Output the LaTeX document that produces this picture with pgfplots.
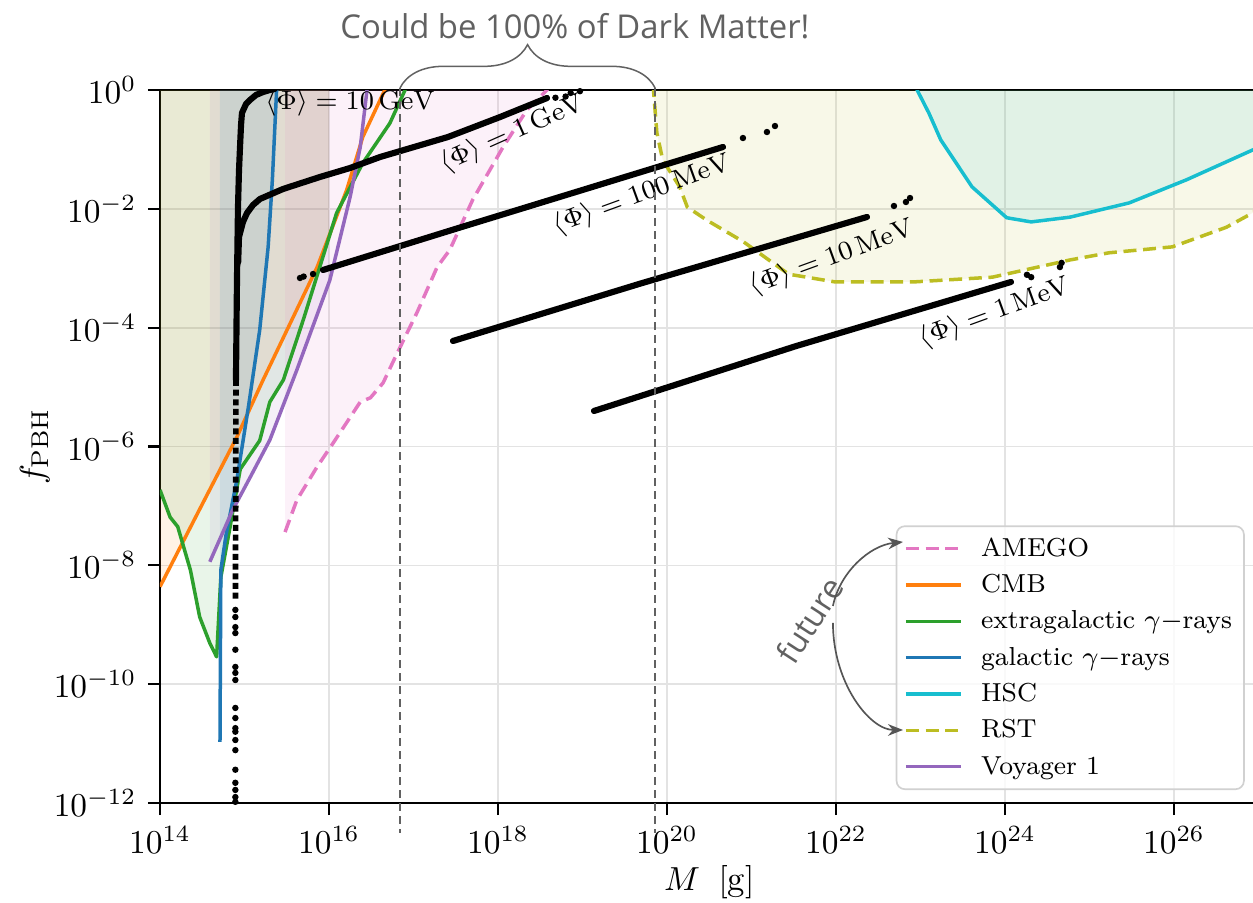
\documentclass[border=0pt]{standalone}
\usepackage{pgfplots}
\pgfplotsset{compat=1.18}
\usepackage{fontspec}
\newfontfamily\notefont{Open Sans}
\usetikzlibrary{arrows.meta,decorations.pathreplacing}

\definecolor{tabpink}{HTML}{E377C2}
\definecolor{taborange}{HTML}{FF7F0E}
\definecolor{tabgreen}{HTML}{2CA02C}
\definecolor{tabblue}{HTML}{1F77B4}
\definecolor{tabcyan}{HTML}{17BECF}
\definecolor{tabolive}{HTML}{BCBD22}
\definecolor{tabpurple}{HTML}{9467BD}
\definecolor{notegray}{HTML}{616161}
\definecolor{arrowgray}{HTML}{555555}

% all coordinates are log10(M/g) and log10(f_PBH)
\begin{document}
\begin{tikzpicture}
\begin{axis}[
  name=ax,
  scale only axis, width=329.55pt, height=213.9pt,
  xmin=14, xmax=27, ymin=-12, ymax=0,
  xtick={14,16,...,26},
  xticklabels={$10^{14}$,$10^{16}$,$10^{18}$,$10^{20}$,$10^{22}$,$10^{24}$,$10^{26}$},
  ytick={-12,-10,...,0},
  yticklabels={$10^{-12}$,$10^{-10}$,$10^{-8}$,$10^{-6}$,$10^{-4}$,$10^{-2}$,$10^{0}$},
  tick pos=left, tick align=outside, major tick length=3.6pt,
  grid=major, grid style={black!11, line width=0.5pt},
  axis line style={line width=0.65pt},
  every tick/.style={black, line width=0.65pt},
  tick label style={font=\fontsize{10.4}{12}\selectfont},
  label style={font=\fontsize{10.4}{12}\selectfont},
  xlabel={$M\;\;[\mathrm{g}]$}, ylabel={$f_{\mathrm{PBH}}$},
  xlabel style={at={(axis description cs:0.5,-0.111)}, anchor=center},
  ylabel style={at={(axis description cs:-0.114,0.5)}, anchor=center},
  legend cell align=left,
  legend image code/.code={\draw[#1] (0pt,0pt) -- (16.5pt,0pt);},
  legend style={at={(0.9875,0.0182)}, anchor=south east,
    draw=black!18, line width=0.5pt, rounded corners=2.5pt,
    fill=white, fill opacity=0.8, text opacity=1,
    font=\fontsize{7.8}{10}\selectfont,
    inner xsep=2.3pt, inner ysep=1.3pt,
    nodes={inner sep=1.3pt, text height=6.4pt, text depth=1.9pt},
    /tikz/every odd column/.append style={column sep=4.2pt}},
]

% ---- excluded regions (filled above each bound) ----
\addplot[draw=none, fill=taborange, fill opacity=0.1, forget plot] coordinates {
  (14.00,-8.36) (14.45,-7.11) (14.91,-5.84) (15.22,-4.88) (15.86,-2.98)
  (16.00,-2.46) (16.00,0) (14.00,0)};
\addplot[draw=none, fill=tabgreen, fill opacity=0.1, forget plot] coordinates {
  (14.00,-6.73) (14.12,-7.19) (14.21,-7.35) (14.36,-8.08) (14.47,-8.87)
  (14.59,-9.31) (14.67,-9.54) (14.72,-8.20) (14.83,-7.35) (14.95,-6.38)
  (15.18,-5.90) (15.30,-5.25) (15.46,-4.88) (15.70,-3.85) (16.00,-2.45)
  (16.00,0) (14.00,0)};
\addplot[draw=none, fill=tabpurple, fill opacity=0.1, forget plot] coordinates {
  (14.59,-7.94) (14.86,-7.07) (15.07,-6.51) (15.30,-5.89) (15.62,-4.71)
  (16.00,-3.24) (16.00,0) (14.59,0)};
\addplot[draw=none, fill=tabblue, fill opacity=0.1, forget plot] coordinates {
  (14.71,-10.97) (14.72,-8.08) (14.78,-7.50) (14.91,-6.56) (15.05,-5.30)
  (15.18,-4.04) (15.28,-2.64) (15.33,-1.51) (15.38,0) (14.71,0)};
\addplot[draw=none, fill=tabpink, fill opacity=0.1, forget plot] coordinates {
  (15.48,-7.44) (15.62,-6.90) (15.86,-6.34) (16.05,-5.94) (16.37,-5.25)
  (16.49,-5.18) (16.64,-4.93) (16.80,-4.45) (17.04,-3.75) (17.28,-2.98)
  (17.43,-2.69) (17.70,-1.85) (18.06,-0.96) (18.34,-0.34) (18.58,0) (15.48,0)};
\addplot[draw=none, fill=tabolive, fill opacity=0.1, forget plot] coordinates {
  (19.84,0) (19.88,-0.72) (19.95,-1.18) (20.15,-1.63) (20.24,-1.97)
  (20.47,-2.19) (20.90,-2.55) (21.44,-3.10) (21.99,-3.23) (22.92,-3.23)
  (23.85,-3.15) (24.77,-2.86) (25.23,-2.74) (25.98,-2.64) (26.62,-2.31)
  (26.93,-2.07) (27.00,-2.00) (27.00,0)};
\addplot[draw=none, fill=tabcyan, fill opacity=0.1, forget plot] coordinates {
  (22.96,0) (23.10,-0.39) (23.24,-0.84) (23.61,-1.63) (24.02,-2.15)
  (24.31,-2.22) (24.77,-2.14) (25.47,-1.90) (26.15,-1.51) (26.93,-1.01)
  (27.00,-0.97) (27.00,0)};

% ---- bounds ----
\pgfplotsset{bound/.style={line width=1.05pt, line join=round}}
\addplot[bound, tabpink, dash pattern=on 3.9pt off 2pt] coordinates {
  (15.48,-7.44) (15.62,-6.90) (15.86,-6.34) (16.05,-5.94) (16.37,-5.25)
  (16.49,-5.18) (16.64,-4.93) (16.80,-4.45) (17.04,-3.75) (17.28,-2.98)
  (17.43,-2.69) (17.70,-1.85) (18.06,-0.96) (18.34,-0.34) (18.58,0) (18.62,0.1)};
\addlegendentry{AMEGO}
\addplot[bound, taborange] coordinates {
  (14.00,-8.36) (14.45,-7.11) (14.91,-5.84) (15.22,-4.88) (15.86,-2.98)
  (16.21,-1.68) (16.40,-0.79) (16.66,0) (16.72,0.2)};
\addlegendentry{CMB}
\addplot[bound, tabgreen] coordinates {
  (14.00,-6.73) (14.12,-7.19) (14.21,-7.35) (14.36,-8.08) (14.47,-8.87)
  (14.59,-9.31) (14.67,-9.54) (14.72,-8.20) (14.83,-7.35) (14.95,-6.38)
  (15.18,-5.90) (15.30,-5.25) (15.46,-4.88) (15.70,-3.85) (16.09,-2.07)
  (16.40,-1.23) (16.72,-0.56) (16.90,0) (16.95,0.15)};
\addlegendentry{extragalactic $\gamma-$rays}
\addplot[bound, tabblue] coordinates {
  (14.71,-10.97) (14.72,-8.08) (14.78,-7.50) (14.91,-6.56) (15.05,-5.30)
  (15.18,-4.04) (15.28,-2.64) (15.33,-1.51) (15.38,0) (15.39,0.1)};
\addlegendentry{galactic $\gamma-$rays}
\addplot[bound, tabcyan] coordinates {
  (22.95,0.1) (22.96,0) (23.10,-0.39) (23.24,-0.84) (23.61,-1.63) (24.02,-2.15)
  (24.31,-2.22) (24.77,-2.14) (25.47,-1.90) (26.15,-1.51) (26.93,-1.01)
  (27.00,-0.97)};
\addlegendentry{HSC}
\addplot[bound, tabolive, dash pattern=on 3.9pt off 2pt] coordinates {
  (19.83,0.1) (19.84,0) (19.88,-0.72) (19.95,-1.18) (20.15,-1.63) (20.24,-1.97)
  (20.47,-2.19) (20.90,-2.55) (21.44,-3.10) (21.99,-3.23) (22.92,-3.23)
  (23.85,-3.15) (24.77,-2.86) (25.23,-2.74) (25.98,-2.64) (26.62,-2.31)
  (26.93,-2.07) (27.00,-2.00)};
\addlegendentry{RST}
\addplot[bound, tabpurple] coordinates {
  (14.59,-7.94) (14.86,-7.07) (15.07,-6.51) (15.30,-5.89) (15.62,-4.71)
  (16.01,-3.20) (16.25,-1.80) (16.37,-0.96) (16.45,0) (16.47,0.15)};
\addlegendentry{Voyager 1}

% ---- PBH populations for fixed mean photon energy ----
\pgfplotsset{band/.style={black, line width=1.85pt, line cap=round, line join=round, forget plot},
             spots/.style={black, only marks, mark=*, mark size=0.75pt, forget plot}}
% 10 GeV
\addplot[band] coordinates {
  (14.899,-4.88) (14.911,-3.20) (14.923,-1.97) (14.935,-1.35) (14.947,-0.96)
  (14.959,-0.59) (14.970,-0.387) (15.018,-0.236) (15.065,-0.168) (15.136,-0.084)
  (15.219,-0.034) (15.30,0.0) (15.36,0.02)};
\addplot[black, line width=1.7pt, dash pattern=on 1.8pt off 1.1pt, forget plot] coordinates {
  (14.899,-4.88) (14.893,-8.58)};
\addplot[spots] coordinates {
  (14.892,-8.75) (14.892,-8.87) (14.892,-9.04) (14.892,-9.14) (14.892,-9.42)
  (14.892,-9.71) (14.892,-9.81) (14.892,-9.93) (14.892,-10.40) (14.892,-10.57)
  (14.892,-10.74) (14.892,-10.80) (14.892,-10.94) (14.892,-11.11) (14.892,-11.44)
  (14.892,-11.66) (14.892,-11.78) (14.892,-11.90) (14.892,-11.98)};
% 1 GeV
\addplot[band] coordinates {
  (14.925,-2.90) (14.935,-2.474) (14.982,-2.221) (15.030,-2.070) (15.101,-1.935)
  (15.183,-1.834) (15.456,-1.666) (15.893,-1.464) (16.249,-1.313) (16.604,-1.128)
  (17.408,-0.791) (18.024,-0.455) (18.580,-0.135)};
\addplot[spots] coordinates {(18.68,-0.13) (18.80,-0.11) (18.86,-0.05) (18.97,-0.02)};
% 100 MeV
\addplot[band] coordinates {
  (15.929,-3.029) (17.515,-2.330) (19.763,-1.350) (20.663,-0.959)};
\addplot[spots] coordinates {(15.657,-3.164) (15.70,-3.14) (15.811,-3.097)
  (20.899,-0.808) (21.183,-0.707) (21.278,-0.606)};
% 10 MeV
\addplot[band] coordinates {
  (17.467,-4.224) (19.680,-3.260) (22.367,-2.137)};
\addplot[spots] coordinates {(22.686,-1.952) (22.828,-1.885) (22.876,-1.818)};
% 1 MeV
\addplot[band] coordinates {
  (19.136,-5.402) (21.527,-4.310) (24.071,-3.231)};
\addplot[spots] coordinates {(24.26,-3.11) (24.31,-3.15) (24.65,-2.98) (24.67,-2.91)};

% curve labels
\begin{scope}[every node/.style={font=\fontsize{8}{9}\selectfont, inner sep=0pt}]
\node at (axis cs:16.249,-0.219) {$\langle\Phi\rangle = 10\,\mathrm{GeV}$};
\node[rotate=24] at (axis cs:18.17,-0.74) {$\langle\Phi\rangle = 1\,\mathrm{GeV}$};
\node[rotate=20] at (axis cs:19.704,-1.767) {$\langle\Phi\rangle = 100\,\mathrm{MeV}$};
\node[rotate=20] at (axis cs:21.953,-2.827) {$\langle\Phi\rangle = 10\,\mathrm{MeV}$};
\node[rotate=20] at (axis cs:23.880,-3.753) {$\langle\Phi\rangle = 1\,\mathrm{MeV}$};
\end{scope}

% anchor points for the notes around the axis
\coordinate (dmL) at (axis cs:16.84,0);
\coordinate (dmR) at (axis cs:19.86,0);
\coordinate (dmLb) at (axis cs:16.84,-12.505);
\coordinate (dmRb) at (axis cs:19.86,-12.505);
\coordinate (dmtext) at (axis cs:18.91,0);
\coordinate (fut) at (axis cs:21.69,-8.92);
\coordinate (a1s) at (axis cs:21.964,-8.684);
\coordinate (a1e) at (axis cs:22.793,-7.607);
\coordinate (a2s) at (axis cs:21.964,-8.970);
\coordinate (a2e) at (axis cs:22.793,-10.771);
\end{axis}

% dark-matter window
\draw[notegray, line width=0.45pt, dash pattern=on 2.4pt off 1.5pt] ([yshift=0.6pt]dmL) -- (dmLb);
\draw[notegray, line width=0.45pt, dash pattern=on 2.4pt off 1.5pt] ([yshift=0.6pt]dmR) -- (dmRb);
\draw[notegray, line width=0.45pt, decorate, decoration={brace, amplitude=13pt}]
  ([yshift=0.6pt]dmL) -- ([yshift=0.6pt]dmR);
\node[notegray, font=\notefont\fontsize{9.85}{11}\selectfont] at ([yshift=19.2pt]dmtext)
  {Could be 100\% of Dark Matter!};

% future missions
\node[notegray, rotate=57, font=\notefont\fontsize{9.8}{11}\selectfont] at (fut) {future};
\draw[arrowgray, line width=0.5pt, -{Stealth[length=4.5pt, width=3.5pt]}]
  (a1s) .. controls +(2pt,10pt) and +(-10pt,-1pt) .. (a1e);
\draw[arrowgray, line width=0.5pt, -{Stealth[length=4.5pt, width=3.5pt]}]
  (a2s) .. controls +(0pt,-18pt) and +(-10pt,0pt) .. (a2e);

\pgfresetboundingbox
\path[use as bounding box] ([shift={(-48pt,-30pt)}]ax.south west)
  rectangle ([shift={(327.9pt,240.9pt)}]ax.south west);
\end{tikzpicture}
\end{document}
